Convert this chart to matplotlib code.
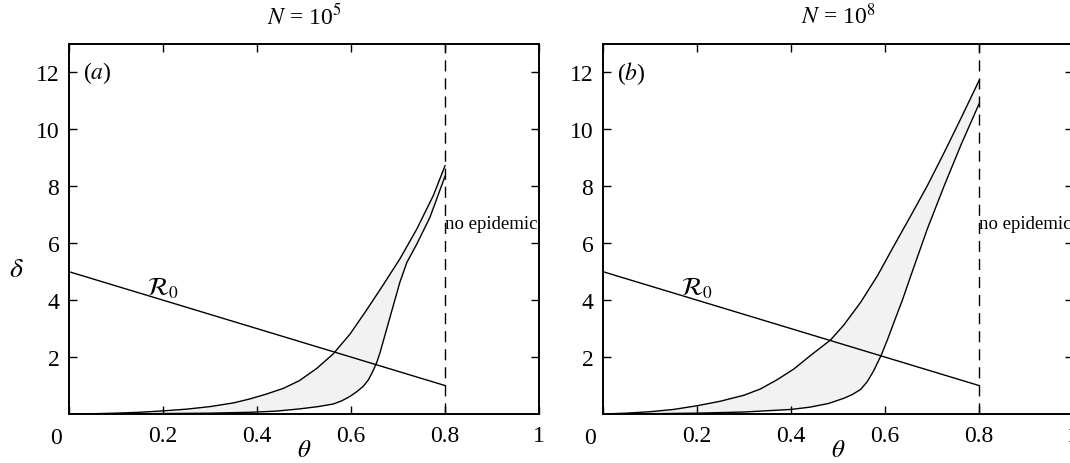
import numpy as np
from matplotlib import pyplot as plt

plt.rcParams['font.family'] = ['Liberation Serif', 'DejaVu Serif']
plt.rcParams['mathtext.fontset'] = 'stix'

# R0 line, same in both panels
r0_theta = [0.0, 0.8]
r0_delta = [5.0, 1.0]

# panel (a), N = 1e5
a_up_theta = [0.0, 0.05, 0.1, 0.15, 0.2, 0.25, 0.3, 0.35, 0.385, 0.42, 0.456, 0.49, 0.527,
              0.562, 0.598, 0.633, 0.669, 0.704, 0.74, 0.775, 0.8]
a_up_delta = [0.0, 0.01, 0.03, 0.06, 0.11, 0.17, 0.26, 0.39, 0.53, 0.70, 0.90, 1.17, 1.6,
              2.11, 2.81, 3.65, 4.55, 5.45, 6.5, 7.67, 8.72]
a_lo_theta = [0.0, 0.1, 0.2, 0.3, 0.385, 0.44, 0.491, 0.53, 0.562, 0.58, 0.598, 0.612, 0.626,
              0.637, 0.647, 0.655, 0.662, 0.669, 0.676, 0.683, 0.69, 0.704, 0.719, 0.74, 0.768, 0.8]
a_lo_delta = [0.0, 0.005, 0.015, 0.03, 0.06, 0.1, 0.18, 0.26, 0.35, 0.46, 0.62, 0.78, 0.97,
              1.2, 1.52, 1.82, 2.17, 2.58, 2.99, 3.4, 3.81, 4.63, 5.33, 5.97, 6.91, 8.35]

# panel (b), N = 1e8
b_up_theta = [0.0, 0.05, 0.1, 0.15, 0.2, 0.25, 0.3, 0.335, 0.37, 0.406, 0.441, 0.484, 0.512,
              0.548, 0.584, 0.619, 0.655, 0.69, 0.726, 0.761, 0.8]
b_up_delta = [0.0, 0.03, 0.08, 0.16, 0.29, 0.45, 0.66, 0.88, 1.2, 1.58, 2.05, 2.6, 3.12,
              3.92, 4.86, 5.91, 6.97, 8.02, 9.19, 10.37, 11.71]
b_lo_theta = [0.0, 0.1, 0.2, 0.3, 0.4, 0.44, 0.48, 0.512, 0.53, 0.548, 0.562, 0.576, 0.592,
              0.605, 0.619, 0.637, 0.655, 0.69, 0.726, 0.761, 0.8]
b_lo_delta = [0.0, 0.01, 0.03, 0.07, 0.16, 0.24, 0.37, 0.55, 0.68, 0.86, 1.13, 1.52, 2.07,
              2.6, 3.22, 4.0, 4.86, 6.5, 8.02, 9.43, 10.89]

panels = [
  ('a', r'$N$ = 10$^5$', a_up_theta, a_up_delta, a_lo_theta, a_lo_delta),
  ('b', r'$N$ = 10$^8$', b_up_theta, b_up_delta, b_lo_theta, b_lo_delta),
]

xticks = [0, 0.2, 0.4, 0.6, 0.8, 1]
xticklabels = ['', '0.2', '0.4', '0.6', '0.8', '1']
yticks = [2, 4, 6, 8, 10, 12]

fig = plt.figure(figsize=(10.7, 4.64), dpi=100)
lefts = [69 / 1070, 603 / 1070]

for left, (tag, title, ut, ud, lt, ld) in zip(lefts, panels):
  ax = fig.add_axes([left, 49 / 464, 470 / 1070, 370 / 464])

  # shaded band between the two curves
  ax.fill(np.concatenate([ut, lt[::-1]]), np.concatenate([ud, ld[::-1]]),
          color='#f2f2f2', lw=0, zorder=1)
  ax.plot(ut, ud, color='k', lw=1.0, zorder=3)
  ax.plot(lt, ld, color='k', lw=1.0, zorder=3)
  ax.plot(r0_theta, r0_delta, color='k', lw=1.0, zorder=3)
  ax.axvline(0.8, color='k', lw=1.0, ls=(0, (8, 5)), zorder=2)

  ax.text(0.165, 4.0, r'$\mathcal{R}_0$', fontsize=18, ha='left', va='bottom')
  ax.text(0.8, 6.7, 'no epidemic', fontsize=13.5, ha='left', va='center')
  ax.text(0.03, 12, r'($%s$)' % tag, fontsize=17, va='center')

  ax.set_xlim(0, 1)
  ax.set_ylim(0, 13)
  ax.set_xticks(xticks)
  ax.set_xticklabels(xticklabels)
  ax.set_yticks(yticks)
  ax.tick_params(direction='in', length=6, width=1.0, top=True, right=True, labelsize=17)
  ax.tick_params(axis='x', pad=8)
  ax.tick_params(axis='y', pad=7)
  for s in ax.spines.values():
    s.set_linewidth(1.4)
  ax.text(-0.015, -0.035, '0', fontsize=17, transform=ax.transAxes, ha='right', va='top')

  ax.set_title(title, fontsize=17, pad=15)
  ax.set_xlabel(r'$\theta$', fontsize=18, labelpad=-5)
  if tag == 'a':
    ax.set_ylabel(r'$\delta$', fontsize=20, rotation=0, va='center', ha='center')
    ax.yaxis.set_label_coords(-0.112, 0.39)

fig.savefig('out.png', dpi=100)
